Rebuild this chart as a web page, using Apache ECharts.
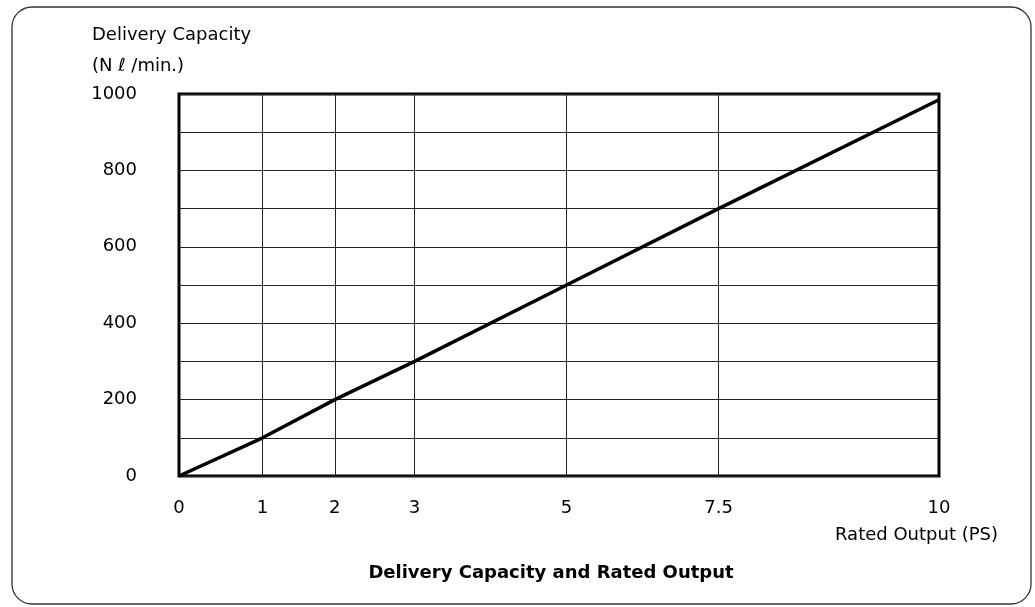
<!DOCTYPE html>
<html>
<head>
<meta charset="utf-8">
<script src="https://cdn.jsdelivr.net/npm/echarts@6/dist/echarts.min.js"></script>
<style>html,body{margin:0;padding:0;background:#fff}#c{width:1035px;height:607px}</style>
</head>
<body>
<div id="c"></div>
<script>
// Rated output tick labels (PS) and where each sits on the chart's 0–200 step drawing scale
const ratedOutput = ['0', '1', '2', '3', '5', '7.5', '10'];
const scaleStep = [0, 22, 41, 62, 102, 142, 200];
// Delivery capacity (N ℓ/min.) at each rated output
const capacity = [0, 100, 200, 300, 500, 700, 985];
// Y-axis labelled ticks
const yLabels = [0, 200, 400, 600, 800, 1000];

const FONT = '"DejaVu Sans", "Liberation Sans", Arial, sans-serif';
const steps = Array.from({length: 201}, (_, i) => String(i));
const labelAt = i => { const k = scaleStep.indexOf(i); return k >= 0 ? ratedOutput[k] : ''; };

const chart = echarts.init(document.getElementById('c'), null, {renderer: 'canvas'});
chart.setOption({
  backgroundColor: '#fff',
  animation: false,
  title: {
    text: 'Delivery Capacity and Rated Output',
    left: 546, top: 559, textAlign: 'center',
    textStyle: {fontFamily: FONT, fontSize: 18, fontWeight: 'bold', color: '#000'}
  },
  graphic: [{
    type: 'rect', silent: true,
    shape: {x: 12, y: 7, width: 1019, height: 597, r: 20},
    style: {fill: 'none', stroke: '#333', lineWidth: 1.3}
  }],
  grid: {left: 179, right: 96, top: 94, bottom: 131, show: true, borderColor: '#000', borderWidth: 3, backgroundColor: 'transparent'},
  xAxis: {
    type: 'category',
    data: steps,
    boundaryGap: false,
    name: 'Rated Output (PS)',
    nameLocation: 'end',
    nameGap: 59,
    nameTextStyle: {fontFamily: FONT, fontSize: 18, color: '#000', align: 'right', verticalAlign: 'top', padding: [50, 0, 0, 0]},
    axisLine: {show: false},
    axisTick: {show: false},
    axisLabel: {
      interval: (i) => scaleStep.indexOf(i) >= 0,
      formatter: (v, i) => labelAt(Number(v)),
      margin: 23,
      fontFamily: FONT, fontSize: 18, color: '#000'
    },
    splitLine: {
      show: true,
      interval: (i) => scaleStep.indexOf(i) > 0 && i !== 200,
      lineStyle: {color: '#222', width: 1}
    }
  },
  yAxis: {
    type: 'value',
    min: 0, max: 1000, interval: 100,
    name: 'Delivery Capacity\n(N ℓ /min.)',
    nameLocation: 'end',
    nameGap: 12,
    nameTextStyle: {fontFamily: FONT, fontSize: 18, color: '#000', align: 'left', verticalAlign: 'bottom', lineHeight: 31, padding: [0, 0, 0, -87]},
    axisLine: {show: false},
    axisTick: {show: false},
    axisLabel: {
      formatter: v => (yLabels.indexOf(v) >= 0 ? String(v) : ''),
      margin: 42,
      padding: [4, 0, 0, 0],
      fontFamily: FONT, fontSize: 18, color: '#000'
    },
    splitLine: {show: true, lineStyle: {color: '#222', width: 1}}
  },
  series: [{
    type: 'line',
    data: scaleStep.map((s, i) => [s, capacity[i]]),
    showSymbol: false,
    lineStyle: {color: '#000', width: 3.5},
    z: 5
  }]
});
</script>
</body>
</html>
